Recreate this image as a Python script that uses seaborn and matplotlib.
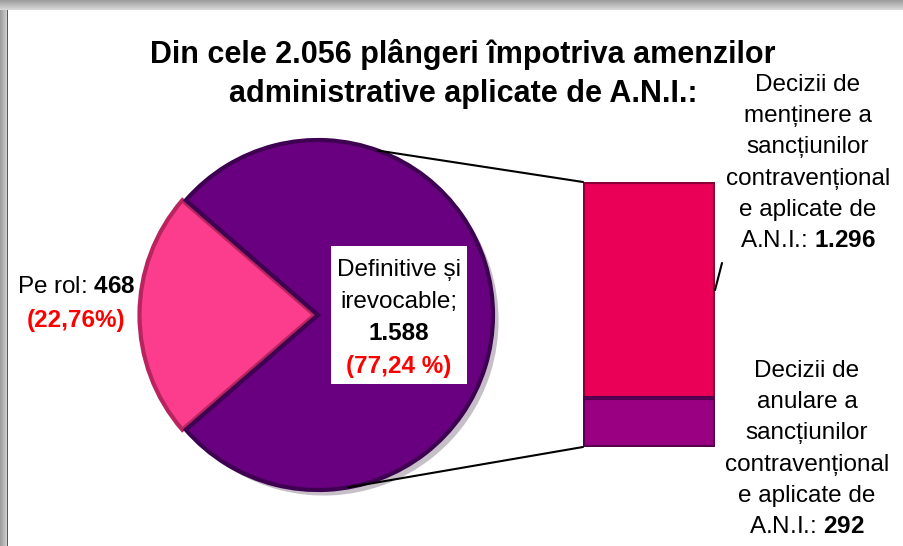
import numpy as np
import pandas as pd
import seaborn as sns
import matplotlib.pyplot as plt
import matplotlib.patheffects as pe
from matplotlib import font_manager
from matplotlib.patches import ConnectionPatch, Rectangle

# data
title = "Din cele 2.056 plângeri împotriva amenzilor\nadministrative aplicate de A.N.I.:"
pie_names = ["Pe rol", "Definitive și irevocable"]
pie_values = [468, 1588]
pie_pcts = ["(22,76%)", "(77,24 %)"]
bar_names = ["Decizii de\nmenținere a\nsancțiunilor\ncontravențional\ne aplicate de\nA.N.I.:",
             "Decizii de\nanulare a\nsancțiunilor\ncontravențional\ne aplicate de\nA.N.I.:"]
bar_values = [1296, 292]

PIE_PINK = "#FC3C8C"
PIE_PURPLE = "#690080"
BAR_PINK = "#EA0056"
BAR_PURPLE = "#9A0082"
RED = "#FF0000"

W, H = 904, 546


def fx(px):
    return px / W


def fy(py):
    return 1 - py / H


def num(v):
    return f"{v:,}".replace(",", ".")


sns.set_style("white")
names = {f.name for f in font_manager.fontManager.ttflist}
FONT = "Liberation Sans Narrow" if "Liberation Sans Narrow" in names else "Liberation Sans"
plt.rcParams["font.family"] = [FONT, "DejaVu Sans"]
plt.rcParams["text.color"] = "black"
plt.rcParams["mathtext.fontset"] = "custom"
plt.rcParams["mathtext.rm"] = FONT
plt.rcParams["mathtext.bf"] = FONT + ":bold"

fig = plt.figure(figsize=(W / 100, H / 100), dpi=100)

# frame with a soft grey shadow on the top and left edges
bg = np.ones((H, W, 3))
yy = np.arange(H)[:, None] * np.ones((1, W))
xx = np.ones((H, 1)) * np.arange(W)[None, :]
top = yy < 10
left = (xx < 7) & ~top
bg[top] = (0.62 + 0.025 * yy[top])[:, None]
bg[left] = (0.62 + 0.03 * xx[left])[:, None]
bg[(xx == 7) & (yy >= 10)] = 0.35
ax_bg = fig.add_axes([0, 0, 1, 1], zorder=-5)
ax_bg.imshow(bg, aspect="auto", interpolation="nearest")
ax_bg.axis("off")

# pie
r = 175
cx, cy = 318, 315
ax_pie = fig.add_axes([fx(cx - r), fy(cy + r), 2 * r / W, 2 * r / H])
total = sum(pie_values)
start = 180 - 360 * pie_values[0] / total / 2
wedges, _ = ax_pie.pie(pie_values, colors=[PIE_PINK, PIE_PURPLE], startangle=start,
                       explode=[0.02, 0], counterclock=True,
                       wedgeprops=dict(linewidth=3))
for w, ec in zip(wedges, ["#B8245E", "#3E0050"]):
    w.set_edgecolor(ec)
    w.set_path_effects([pe.SimplePatchShadow(offset=(4, -4), alpha=0.25), pe.Normal()])
ax_pie.set_xlim(-1, 1)
ax_pie.set_ylim(-1, 1)
ax_pie.set_aspect("auto")
ax_pie.axis("off")

# stacked bar (split of the "definitive" slice)
ax_bar = fig.add_axes([fx(583), fy(447), 132 / W, 265 / H])
df_bar = pd.DataFrame({"grp": ["A.N.I."], "total": [sum(bar_values)], "anulare": [bar_values[1]]})
sns.barplot(data=df_bar, x="grp", y="total", color=BAR_PINK, saturation=1, width=1,
            edgecolor="#8C0038", linewidth=3, ax=ax_bar)
sns.barplot(data=df_bar, x="grp", y="anulare", color=BAR_PURPLE, saturation=1, width=1,
            edgecolor="#550050", linewidth=3, ax=ax_bar)
for p in ax_bar.patches:
    p.set_path_effects([pe.SimplePatchShadow(offset=(4, -4), alpha=0.25), pe.Normal()])
ax_bar.set_xlim(-0.5, 0.5)
ax_bar.set_ylim(0, sum(bar_values))
ax_bar.axis("off")

# connector lines pie -> bar
for ang, yb in [(70, sum(bar_values)), (-80, 0)]:
    a = np.deg2rad(ang)
    con = ConnectionPatch(xyA=(np.cos(a), np.sin(a)), coordsA=ax_pie.transData,
                          xyB=(-0.5, yb), coordsB=ax_bar.transData,
                          color="black", linewidth=1.5, zorder=5)
    fig.add_artist(con)

# leader line of the upper bar label
lead = ConnectionPatch(xyA=(0.5, bar_values[1] + bar_values[0] / 2), coordsA=ax_bar.transData,
                       xyB=(fx(722), fy(263)), coordsB=fig.transFigure,
                       color="black", linewidth=1.5, zorder=5)
fig.add_artist(lead)

# texts
fig.text(fx(463), fy(74), title, ha="center", va="center", fontsize=22,
         weight="bold", linespacing=1.4)

fs = 17.5
ls = 1.55
fig.text(fx(76), fy(287), pie_names[0] + ": $\\mathbf{" + num(pie_values[0]) + "}$",
         ha="center", va="center", fontsize=fs)
fig.text(fx(76), fy(321), pie_pcts[0], ha="center", va="center", fontsize=fs,
         weight="bold", color=RED)

fig.add_artist(Rectangle((fx(331), fy(384)), 136 / W, 138 / H, transform=fig.transFigure,
                         facecolor="white", edgecolor="none", zorder=6))
fig.text(fx(399), fy(286), "Definitive și\nirevocable;", ha="center", va="center",
         fontsize=fs, linespacing=ls, zorder=7)
fig.text(fx(399), fy(334), num(pie_values[1]), ha="center", va="center",
         fontsize=fs, weight="bold", zorder=7)
fig.text(fx(399), fy(367), pie_pcts[1], ha="center", va="center",
         fontsize=fs, weight="bold", color=RED, zorder=7)

fig.text(fx(808), fy(163), bar_names[0] + " $\\mathbf{" + num(bar_values[0]) + "}$",
         ha="center", va="center", fontsize=fs, linespacing=ls)
fig.text(fx(807), fy(449), bar_names[1] + " $\\mathbf{" + num(bar_values[1]) + "}$",
         ha="center", va="center", fontsize=fs, linespacing=ls)

fig.savefig("out.png", dpi=100)
